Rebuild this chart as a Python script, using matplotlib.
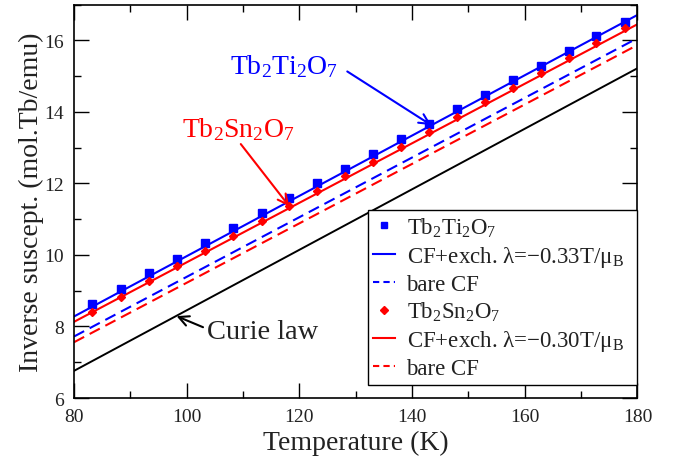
import matplotlib
matplotlib.use("Agg")
import matplotlib.pyplot as plt
from matplotlib.lines import Line2D
from matplotlib.ticker import MultipleLocator

plt.rcParams["font.family"] = ["Liberation Serif", "DejaVu Serif"]
plt.rcParams["mathtext.fontset"] = "custom"
plt.rcParams["mathtext.rm"] = "Liberation Serif"
plt.rcParams["mathtext.it"] = "Liberation Serif:italic"
plt.rcParams["mathtext.default"] = "rm"

# Measured inverse susceptibility (mol.Tb/emu)
T_data = [83.2, 88.3, 93.3, 98.3, 103.3, 108.3, 113.3, 118.2, 123.1, 128.1,
          133.1, 138.1, 143.0, 148.0, 152.9, 157.9, 162.8, 167.8, 172.7, 177.7]
tti_data = [8.63, 9.06, 9.49, 9.90, 10.33, 10.75, 11.18, 11.58, 12.01, 12.41,
            12.82, 13.23, 13.65, 14.07, 14.47, 14.88, 15.28, 15.70, 16.11, 16.51]
tsn_data = [8.41, 8.83, 9.27, 9.69, 10.11, 10.53, 10.95, 11.37, 11.78, 12.20,
            12.61, 13.02, 13.45, 13.86, 14.27, 14.68, 15.09, 15.50, 15.92, 16.34]

# Calculated curves (straight over this range)
T_calc = [80, 180]
tti_exch = [8.28, 16.71]
tti_bare = [7.72, 16.06]
tsn_exch = [8.13, 16.45]
tsn_bare = [7.56, 15.87]
curie = [6.76, 15.22]

BLUE = "#0000ff"
RED = "#ff0000"
TXT = "#222222"

fig = plt.figure(figsize=(6.77, 4.64), dpi=100)
ax = fig.add_axes([0.1093, 0.140, 0.8323, 0.848])

ax.plot(T_calc, curie, color="black", lw=1.4)
ax.plot(T_calc, tti_bare, color=BLUE, lw=1.5, ls=(0, (5.5, 3)))
ax.plot(T_calc, tsn_bare, color=RED, lw=1.5, ls=(0, (5.5, 3)))
ax.plot(T_calc, tti_exch, color=BLUE, lw=1.5)
ax.plot(T_calc, tsn_exch, color=RED, lw=1.5)
ax.plot(T_data, tti_data, ls="none", marker="s", ms=5.5, color=BLUE)
ax.plot(T_data, tsn_data, ls="none", marker="D", ms=4.2, color=RED)

ax.set_xlim(80, 180)
ax.set_ylim(6, 17)
ax.xaxis.set_major_locator(MultipleLocator(20))
ax.xaxis.set_minor_locator(MultipleLocator(10))
ax.yaxis.set_major_locator(MultipleLocator(2))
ax.yaxis.set_minor_locator(MultipleLocator(1))
ax.tick_params(which="both", direction="in", top=True, right=True,
               width=1.0, colors="black", labelcolor=TXT, labelsize=14)
ax.tick_params(which="major", length=11, pad=7)
ax.tick_params(which="minor", length=5)
for s in ax.spines.values():
    s.set_linewidth(1.2)

ax.set_xlabel("Temperature (K)", fontsize=20, color=TXT, labelpad=4)
ax.set_ylabel("Inverse suscept. (mol.Tb/emu)", fontsize=20, color=TXT, labelpad=0.5)

# Labels with arrows
ax.text(107.6, 15.08, "Tb$_2$Ti$_2$O$_7$", color=BLUE, fontsize=20,
        ha="left", va="baseline")
ax.annotate("", xy=(143.4, 13.63), xytext=(128.5, 15.13),
            arrowprops=dict(arrowstyle="->", color=BLUE, lw=1.5,
                            mutation_scale=18, shrinkA=0, shrinkB=0))
ax.text(99.1, 13.32, "Tb$_2$Sn$_2$O$_7$", color=RED, fontsize=20,
        ha="left", va="baseline")
ax.annotate("", xy=(118.2, 11.36), xytext=(109.6, 13.1),
            arrowprops=dict(arrowstyle="->", color=RED, lw=1.5,
                            mutation_scale=18, shrinkA=0, shrinkB=0))
ax.text(103.6, 7.68, "Curie law", color=TXT, fontsize=20.5,
        ha="left", va="baseline")
ax.annotate("", xy=(98.2, 8.29), xytext=(102.9, 7.98),
            arrowprops=dict(arrowstyle="->", color="black", lw=1.5,
                            mutation_scale=18, shrinkA=0, shrinkB=0))

handles = [
    Line2D([], [], ls="none", marker="s", ms=5, color=BLUE),
    Line2D([], [], color=BLUE, lw=1.5),
    Line2D([], [], color=BLUE, lw=1.5, ls=(0, (3, 2))),
    Line2D([], [], ls="none", marker="D", ms=4, color=RED),
    Line2D([], [], color=RED, lw=1.5),
    Line2D([], [], color=RED, lw=1.5, ls=(0, (3, 2))),
]
labels = [
    "Tb$_2$Ti$_2$O$_7$",
    "CF+exch. λ=−0.33T/μ$_\\mathrm{B}$",
    "bare CF",
    "Tb$_2$Sn$_2$O$_7$",
    "CF+exch. λ=−0.30T/μ$_\\mathrm{B}$",
    "bare CF",
]
leg = ax.legend(handles, labels, loc="lower left",
                bbox_to_anchor=(0.521, 0.033, 0.479, 0.44), mode="expand",
                fontsize=16.5, frameon=True, fancybox=False, framealpha=1,
                edgecolor="black", handlelength=0.95, handletextpad=0.5,
                borderpad=0.25, labelspacing=0.22, borderaxespad=0)
leg.get_frame().set_linewidth(1.0)
for t in leg.get_texts():
    t.set_color(TXT)

fig.savefig("out.png", dpi=100)
